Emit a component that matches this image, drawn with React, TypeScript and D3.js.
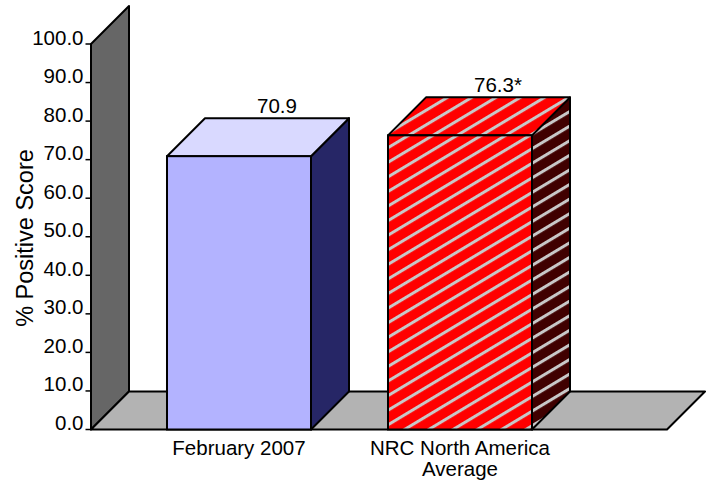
import React from "react";
import * as d3 from "d3";

// Chart data
const categories = ["February 2007", "NRC North America Average"];
const categoryLines = [["February 2007"], ["NRC North America", "Average"]];
const values = [70.9, 76.3];
const valueLabels = ["70.9", "76.3*"];
const yTicks = [0, 10, 20, 30, 40, 50, 60, 70, 80, 90, 100];
const yTitle = "% Positive Score";

const W = 712;
const H = 485;
const DEPTH = 38; // oblique 3D depth offset (45°)
const FONT = "'Liberation Sans', Arial, Helvetica, sans-serif";
const PLOT_LEFT = 91;
const PLOT_RIGHT = 667;
const HATCH = 12.5; // stripe period

type Pt = [number, number];
const poly = (pts: Pt[]) => pts.map((p) => p.join(",")).join(" ");

export default function App() {
  const y = d3.scaleLinear().domain([0, 100]).range([429.5, 44]);
  const x = d3
    .scaleBand<string>()
    .domain(categories)
    .range([128.5, 570.5])
    .paddingInner(0.3484)
    .paddingOuter(0.1742);
  const bw = x.bandwidth();
  const y0 = y(0);
  const yTop = y(100);

  const wall: Pt[] = [
    [PLOT_LEFT, yTop],
    [PLOT_LEFT + DEPTH, yTop - DEPTH],
    [PLOT_LEFT + DEPTH, y0 - DEPTH],
    [PLOT_LEFT, y0],
  ];
  const floor: Pt[] = [
    [PLOT_LEFT, y0],
    [PLOT_RIGHT, y0],
    [PLOT_RIGHT + DEPTH, y0 - DEPTH],
    [PLOT_LEFT + DEPTH, y0 - DEPTH],
  ];

  const styles = [
    { front: "#b3b3ff", top: "#d9d9ff", side: "#262666" },
    { front: "url(#hatchRed)", top: "url(#hatchRed)", side: "url(#hatchDark)" },
  ];

  return (
    <svg
      width={W}
      height={H}
      viewBox={`0 0 ${W} ${H}`}
      style={{ position: "absolute", left: 0, top: 0, background: "#fff" }}
      fontFamily={FONT}
    >
      <defs>
        <pattern
          id="hatchRed"
          patternUnits="userSpaceOnUse"
          width={40}
          height={HATCH}
          patternTransform="rotate(-31)"
        >
          <rect width={40} height={HATCH} fill="#ff0000" />
          <rect y={0} width={40} height={3} fill="#c8c8c8" />
        </pattern>
        <pattern
          id="hatchDark"
          patternUnits="userSpaceOnUse"
          width={40}
          height={HATCH}
          patternTransform="rotate(-31)"
        >
          <rect width={40} height={HATCH} fill="#400000" />
          <rect y={0} width={40} height={3} fill="#c8c8c8" />
        </pattern>
      </defs>

      {/* side wall and floor */}
      <polygon points={poly(wall)} fill="#666666" stroke="#000" strokeWidth={2} strokeLinejoin="round" />
      <polygon points={poly(floor)} fill="#b3b3b3" stroke="#000" strokeWidth={2} strokeLinejoin="round" />

      {/* y axis ticks and labels */}
      {yTicks.map((t) => (
        <g key={t}>
          <line x1={85.5} x2={PLOT_LEFT} y1={y(t)} y2={y(t)} stroke="#000" strokeWidth={1.5} />
          <text x={83.5} y={y(t) + 0.5} textAnchor="end" fontSize={20.5} fill="#000">
            {t.toFixed(1)}
          </text>
        </g>
      ))}

      <text
        transform={`translate(32.5,238) rotate(-90)`}
        textAnchor="middle"
        fontSize={23.5}
        fill="#000"
      >
        {yTitle}
      </text>

      {/* bars */}
      {categories.map((c, i) => {
        const x0 = x(c)!;
        const x1 = x0 + bw;
        const top = y(values[i]);
        const s = styles[i];
        const topFace: Pt[] = [
          [x0, top],
          [x0 + DEPTH, top - DEPTH],
          [x1 + DEPTH, top - DEPTH],
          [x1, top],
        ];
        const sideFace: Pt[] = [
          [x1, top],
          [x1 + DEPTH, top - DEPTH],
          [x1 + DEPTH, y0 - DEPTH],
          [x1, y0],
        ];
        return (
          <g key={c}>
            <polygon points={poly(sideFace)} fill={s.side} stroke="#000" strokeWidth={2} strokeLinejoin="round" />
            <polygon points={poly(topFace)} fill={s.top} stroke="#000" strokeWidth={2} strokeLinejoin="round" />
            <rect x={x0} y={top} width={bw} height={y0 - top} fill={s.front} stroke="#000" strokeWidth={2} />
            <text
              x={x0 + DEPTH + bw / 2}
              y={top - DEPTH - 5}
              textAnchor="middle"
              fontSize={20.5}
              fill="#000"
            >
              {valueLabels[i]}
            </text>
            {categoryLines[i].map((line, j) => (
              <text
                key={j}
                x={x0 + bw / 2}
                y={455 + j * 21}
                textAnchor="middle"
                fontSize={20.5}
                fill="#000"
              >
                {line}
              </text>
            ))}
          </g>
        );
      })}
    </svg>
  );
}
